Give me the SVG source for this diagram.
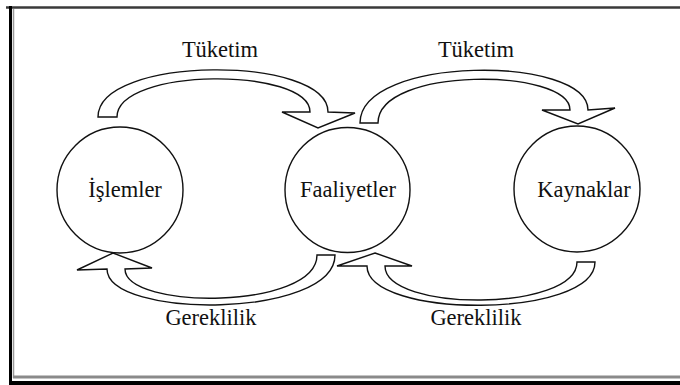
<svg xmlns="http://www.w3.org/2000/svg" width="680" height="385" viewBox="0 0 680 385">
<style>
.node{fill:#fff;stroke:#111;stroke-width:1.4}
.arrow{fill:#fff;stroke:#111;stroke-width:1.4;stroke-linejoin:miter}
.t{font-family:"Liberation Serif","Times New Roman",serif;font-size:22.5px;fill:#111;text-anchor:middle}
</style>
<rect width="680" height="385" fill="#fff"/>
<g id="frame">
<line x1="6" y1="7.5" x2="680" y2="7.5" stroke="#3a3a3a" stroke-width="2.5"/>
<line x1="13.5" y1="9" x2="13.5" y2="378" stroke="#9a9a9a" stroke-width="1.5"/>
<line x1="13" y1="377" x2="680" y2="377" stroke="#8a8a8a" stroke-width="3"/>
<line x1="10.5" y1="6" x2="10.5" y2="385" stroke="#000" stroke-width="3"/>
<line x1="9" y1="383" x2="680" y2="383" stroke="#000" stroke-width="4"/>
</g>
<g id="connectors">
<path class="arrow" d="M98,117 L117,117 C117,67 310,67 310,112 L282,112 L318,128 L355,113 L328,112 C328,55 98,55 98,117 Z"/>
<path class="arrow" d="M360,123 L378,123 C378,66 570,68 570,110 L542,110 L578,124 L615,108 L588,110 C588,55 360,55 360,123 Z"/>
<path class="arrow" d="M113,253 L152,268 L125,269 C125,310 317,310 317,255 L335,255 C335,319 107,319 107,269 L77,270 Z"/>
<path class="arrow" d="M375,253 L412,266 L385,266 C385,312 577,312 577,262 L595,262 C595,319 367,319 367,266 L337,266 Z"/>
<text class="t" x="220" y="57">Tüketim</text>
<text class="t" x="476" y="57">Tüketim</text>
<text class="t" x="211" y="325">Gereklilik</text>
<text class="t" x="476" y="325">Gereklilik</text>
</g>
<g id="islemler">
<circle class="node" cx="120" cy="190" r="63"/>
<text class="t" x="125" y="197">İşlemler</text>
</g>
<g id="faaliyetler">
<circle class="node" cx="347.5" cy="190" r="62.5"/>
<text class="t" x="348" y="197">Faaliyetler</text>
</g>
<g id="kaynaklar">
<circle class="node" cx="577" cy="189" r="63"/>
<text class="t" x="584" y="197">Kaynaklar</text>
</g>
</svg>
